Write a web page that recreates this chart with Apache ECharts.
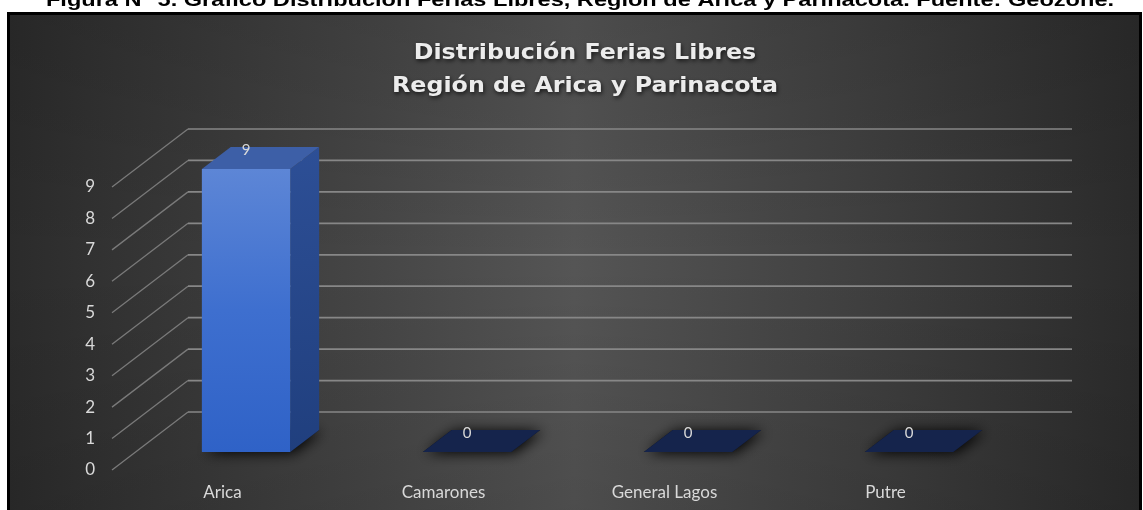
<!DOCTYPE html>
<html>
<head>
<meta charset="utf-8">
<script src="https://cdn.jsdelivr.net/npm/echarts@6/dist/echarts.min.js"></script>
<style>
  html, body { margin: 0; padding: 0; background: #ffffff; }
  #chart { width: 1143px; height: 510px; }
</style>
</head>
<body>
<div id="chart"></div>
<script>
// ---- data ----
const caption = 'Figura N° 5. Gráfico Distribución Ferias Libres, Región de Arica y Parinacota. Fuente: Geozone.';
const titleLines = ['Distribución Ferias Libres', 'Región de Arica y Parinacota'];
const categories = ['Arica', 'Camarones', 'General Lagos', 'Putre'];
const values = [9, 0, 0, 0];
const yTicks = [0, 1, 2, 3, 4, 5, 6, 7, 8, 9];

// ---- 3D projection constants (style) ----
const DX = 76, DY = -58;       // front plane -> back wall offset
const BAR_FRONT = 0.31;        // bar front depth fraction
const BAR_DEPTH = 0.38;        // bar depth fraction
const BAR_WIDTH = 0.40;        // fraction of category band

const chart = echarts.init(document.getElementById('chart'), null, { renderer: 'canvas' });

function gridItem(params, api) {
  const cs = params.coordSys;
  const y = api.coord([0, api.value(1)])[1];
  return {
    type: 'group',
    children: [
      { type: 'line', shape: { x1: cs.x, y1: y, x2: cs.x + DX, y2: y + DY },
        style: { stroke: '#7a7a7a', lineWidth: 1.3 } },
      { type: 'line', shape: { x1: cs.x + DX, y1: y + DY, x2: cs.x + cs.width + DX, y2: y + DY },
        style: { stroke: '#878787', lineWidth: 1.7 } }
    ]
  };
}

function barItem(params, api) {
  const i = api.value(0), v = api.value(1);
  const b = api.coord([i, 0]);
  const t = api.coord([i, v]);
  const band = api.size([1, 0])[0];
  const w = band * BAR_WIDTH;
  const ox = DX * BAR_FRONT, oy = DY * BAR_FRONT;
  const dx = DX * BAR_DEPTH, dy = DY * BAR_DEPTH;
  const xl = b[0] - w / 2 + ox, xr = xl + w;
  const yb = b[1] + oy, yt = t[1] + oy;
  const children = [];
  // floor shadow
  children.push({
    type: 'polygon',
    shape: { points: [[xl, yb], [xr, yb], [xr + dx, yb + dy], [xl + dx, yb + dy]] },
    style: { fill: '#0b1020', shadowBlur: 14, shadowColor: 'rgba(0,0,0,1)', shadowOffsetX: 3, shadowOffsetY: 1 }
  });
  if (v > 0) {
    children.push({
      type: 'polygon',
      shape: { points: [[xr, yt], [xr + dx, yt + dy], [xr + dx, yb + dy], [xr, yb]] },
      style: { fill: new echarts.graphic.LinearGradient(0, 0, 0, 1, [
        { offset: 0, color: '#2d4f96' }, { offset: 1, color: '#203f7e' }]) }
    });
    children.push({
      type: 'rect',
      shape: { x: xl, y: yt, width: w, height: yb - yt },
      style: { fill: new echarts.graphic.LinearGradient(0, 0, 0, 1, [
        { offset: 0, color: '#5d86d6' }, { offset: 0.5, color: '#3e6fcf' }, { offset: 1, color: '#2f62c7' }]) }
    });
    children.push({
      type: 'polygon',
      shape: { points: [[xl, yt], [xr, yt], [xr + dx, yt + dy], [xl + dx, yt + dy]] },
      style: { fill: '#3d5fa7' }
    });
  } else {
    children.push({
      type: 'polygon',
      shape: { points: [[xl, yt], [xr, yt], [xr + dx, yt + dy], [xl + dx, yt + dy]] },
      style: { fill: '#15244c' }
    });
  }
  children.push({
    type: 'text',
    style: {
      text: String(v), x: xl + w / 2, y: yt + dy + 3,
      align: 'center', verticalAlign: 'middle',
      fill: '#d9d9d9', font: '15px Lato'
    }
  });
  return { type: 'group', children: children };
}

const option = {
  animation: false,
  backgroundColor: '#ffffff',
  graphic: [
    {
      type: 'rect', z: -10, silent: true,
      shape: { x: 8.5, y: 13.5, width: 1132, height: 510 },
      style: {
        fill: new echarts.graphic.LinearGradient(0, 0, 1, 0, [
          { offset: 0, color: '#2b2b2b' }, { offset: 0.5, color: '#555555' }, { offset: 1, color: '#2b2b2b' }]),
        stroke: '#000000', lineWidth: 3
      }
    },
    {
      type: 'rect', z: -9, silent: true,
      shape: { x: 10, y: 15, width: 1129, height: 495 },
      style: {
        fill: new echarts.graphic.LinearGradient(0, 0, 0, 1, [
          { offset: 0, color: 'rgba(0,0,0,0.10)' }, { offset: 0.5, color: 'rgba(0,0,0,0)' }, { offset: 1, color: 'rgba(0,0,0,0.10)' }])
      }
    },
    {
      type: 'text', z: 100, silent: true,
      x: 580, y: 1.5, scaleX: 1.31, scaleY: 1,
      style: {
        text: caption, x: 0, y: 0, align: 'center', verticalAlign: 'middle',
        fill: '#000000', font: 'bold 18px "Liberation Sans", Arial, sans-serif'
      }
    },
    {
      type: 'text', z: 100, silent: true,
      x: 585, y: 70, scaleX: 1.13, scaleY: 1,
      style: {
        text: titleLines.join('\n'), x: 0, y: 0, align: 'center', verticalAlign: 'middle',
        fill: '#ececec', font: 'bold 21px "DejaVu Sans", sans-serif', lineHeight: 33,
        textShadowColor: 'rgba(0,0,0,0.7)', textShadowBlur: 4, textShadowOffsetX: 1, textShadowOffsetY: 2
      }
    }
  ],
  grid: { left: 112, right: 147, top: 187, bottom: 40 },
  xAxis: {
    type: 'category', data: categories,
    axisLine: { show: false }, axisTick: { show: false }, splitLine: { show: false },
    axisLabel: { color: '#d9d9d9', fontSize: 17, fontFamily: 'Lato', margin: 14 }
  },
  yAxis: {
    type: 'value', min: 0, max: 9, interval: 1,
    axisLine: { show: false }, axisTick: { show: false }, splitLine: { show: false },
    axisLabel: { color: '#d9d9d9', fontSize: 17, fontFamily: 'Lato', margin: 17 }
  },
  series: [
    { type: 'custom', name: 'grid3d', silent: true, z: 1,
      data: yTicks.map(v => [0, v]), renderItem: gridItem },
    { type: 'custom', name: 'Ferias Libres', z: 3,
      data: values.map((v, i) => [i, v]), renderItem: barItem }
  ]
};
chart.setOption(option);
</script>
</body>
</html>
